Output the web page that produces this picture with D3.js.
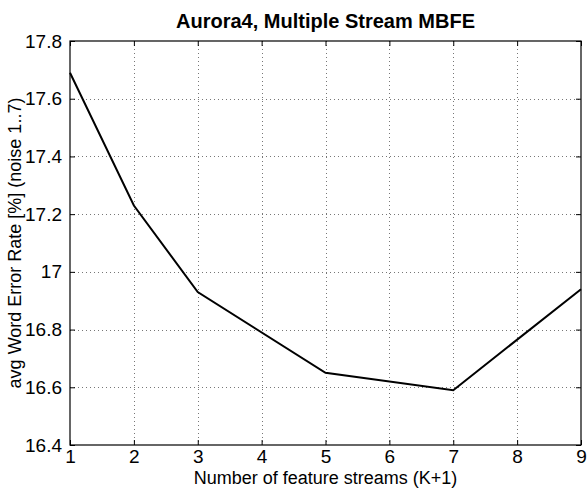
<!DOCTYPE html>
<html>
<head>
<meta charset="utf-8">
<script src="https://cdn.jsdelivr.net/npm/d3@7"></script>
<style>
  html, body { margin: 0; padding: 0; background: #fff; }
  svg { display: block; }
  text { font-family: "Liberation Sans", Arial, Helvetica, sans-serif; fill: #000; }
</style>
</head>
<body>
<svg id="chart" width="587" height="488"></svg>
<script>
// ---- data ----
const streams = [1, 2, 3, 5, 7, 9];
const wer = [17.69, 17.23, 16.93, 16.65, 16.59, 16.94];
const xTicks = [1, 2, 3, 4, 5, 6, 7, 8, 9];
const yTicks = [16.4, 16.6, 16.8, 17.0, 17.2, 17.4, 17.6, 17.8];
const titleText = "Aurora4, Multiple Stream MBFE";
const xLabelText = "Number of feature streams (K+1)";
const yLabelText = "avg Word Error Rate [%] (noise 1..7)";

// ---- layout ----
const W = 587, H = 488;
const mLeft = 70, mRight = 581, mTop = 41, mBottom = 445;
const tickFont = 19, labelFont = 18, titleFont = 20;

const svg = d3.select("#chart");
const x = d3.scaleLinear().domain([1, 9]).range([mLeft, mRight]);
const y = d3.scaleLinear().domain([16.4, 17.8]).range([mBottom, mTop]);

// grid
const grid = svg.append("g").attr("stroke", "#777").attr("stroke-width", 1)
  .attr("stroke-dasharray", "1,3").attr("fill", "none");
xTicks.slice(1, -1).forEach(t => {
  grid.append("line").attr("x1", Math.round(x(t)) + 0.5).attr("x2", Math.round(x(t)) + 0.5)
    .attr("y1", mTop).attr("y2", mBottom);
});
yTicks.slice(1, -1).forEach(t => {
  grid.append("line").attr("y1", Math.round(y(t)) + 0.5).attr("y2", Math.round(y(t)) + 0.5)
    .attr("x1", mLeft).attr("x2", mRight);
});

// axes (ticks inward on all sides)
const tickLen = 5;
const fmt = d => (d === 17 ? "17" : d3.format(".1f")(d));

const xAxisB = d3.axisBottom(x).tickValues(xTicks).tickSize(-tickLen).tickPadding(5).tickFormat(d3.format("d"));
const xAxisT = d3.axisTop(x).tickValues(xTicks).tickSize(-tickLen).tickFormat("");
const yAxisL = d3.axisLeft(y).tickValues(yTicks).tickSize(-tickLen).tickPadding(8).tickFormat(fmt);
const yAxisR = d3.axisRight(y).tickValues(yTicks).tickSize(-tickLen).tickFormat("");

function style(g) {
  g.select(".domain").remove();
  g.selectAll(".tick line").attr("stroke", "#000").attr("stroke-width", 1);
  g.selectAll(".tick text").attr("font-size", tickFont).style("font-family", "'Liberation Sans', Arial, sans-serif").attr("fill", "#000");
}
svg.append("g").attr("transform", `translate(0,${mBottom})`).call(xAxisB).call(style);
svg.append("g").attr("transform", `translate(0,${mTop})`).call(xAxisT).call(style);
svg.append("g").attr("transform", `translate(${mLeft},0)`).call(yAxisL).call(style);
svg.append("g").attr("transform", `translate(${mRight},0)`).call(yAxisR).call(style);

// box
svg.append("rect").attr("x", mLeft).attr("y", mTop)
  .attr("width", mRight - mLeft).attr("height", mBottom - mTop)
  .attr("fill", "none").attr("stroke", "#000").attr("stroke-width", 1.2);

// data line
const line = d3.line().x((d, i) => x(streams[i])).y(d => y(d));
svg.append("path").datum(wer).attr("d", line)
  .attr("fill", "none").attr("stroke", "#000").attr("stroke-width", 2).attr("stroke-linejoin", "miter");

// title & labels
svg.append("text").attr("x", (mLeft + mRight) / 2).attr("y", 28)
  .attr("text-anchor", "middle").attr("font-size", titleFont).attr("font-weight", "bold").text(titleText);
svg.append("text").attr("x", (mLeft + mRight) / 2).attr("y", 484)
  .attr("text-anchor", "middle").attr("font-size", labelFont).text(xLabelText);
svg.append("text").attr("transform", `translate(21,${(mTop + mBottom) / 2}) rotate(-90)`)
  .attr("text-anchor", "middle").attr("font-size", labelFont).text(yLabelText);
</script>
</body>
</html>
